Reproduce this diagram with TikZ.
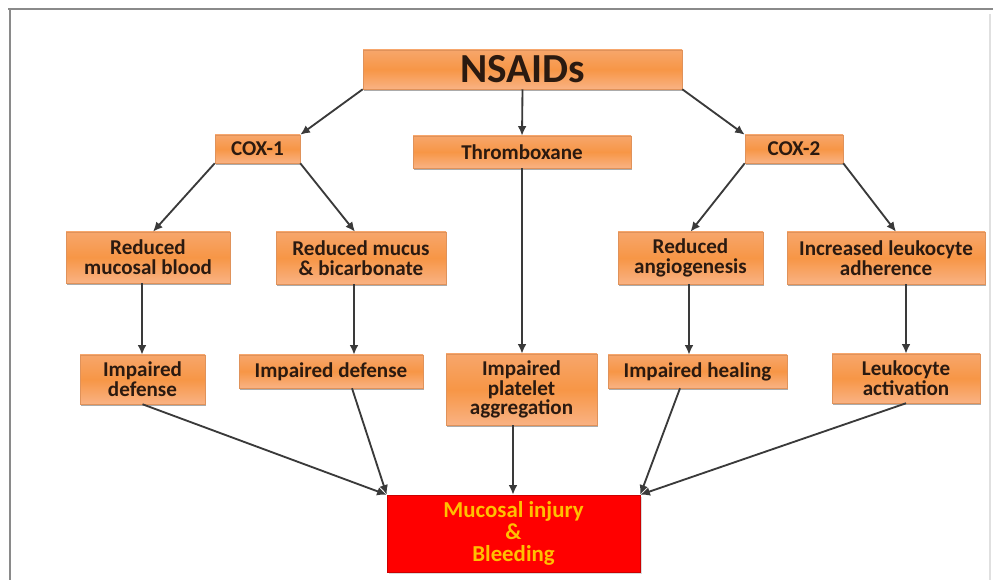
\documentclass[tikz,border=0pt]{standalone}
\usepackage{fontspec}
\setmainfont{Carlito}
\usetikzlibrary{arrows.meta,shadows,calc}
\definecolor{orgTop}{HTML}{F7A66B}
\definecolor{orgMid}{HTML}{F79646}
\definecolor{orgBot}{HTML}{F9B283}
\definecolor{orgEdge}{HTML}{E0925A}
\definecolor{lineC}{HTML}{3A3A3A}
\definecolor{txtC}{HTML}{2B1A10}
\definecolor{redBox}{HTML}{FF0000}
\definecolor{yelTxt}{HTML}{FFC000}
\definecolor{frameC}{HTML}{8A8A8A}
\tikzset{
  obox/.style 2 args={draw=orgEdge, line width=0.3pt, top color=orgTop, bottom color=orgBot, middle color=orgMid,
    minimum width=#1*0.02cm, minimum height=#2*0.02cm, inner sep=0pt, align=center,
    text=txtC, font=\bfseries\fontsize{12}{11.2}\selectfont,
    drop shadow={shadow xshift=0.6pt, shadow yshift=-0.9pt, opacity=0.55, fill=black!60}},
  rbox/.style 2 args={draw=red!80!black, line width=0.3pt, fill=redBox,
    minimum width=#1*0.02cm, minimum height=#2*0.02cm, inner sep=0pt, align=center,
    text=yelTxt, font=\bfseries\fontsize{13}{12.6}\selectfont,
    drop shadow={shadow xshift=1pt, shadow yshift=-1.2pt, opacity=0.35, fill=black!40}},
  conn/.style={draw=lineC, line width=1.05pt, -{Latex[length=5.5pt,width=5pt]}}
}
\begin{document}
\begin{tikzpicture}[x=0.02cm,y=-0.02cm]
\useasboundingbox (0,0) rectangle (993,580);
\fill[white] (0,0) rectangle (993,580);
% frame
\draw[frameC, line width=1.3pt] (8,9) -- (993,9);
\draw[frameC, line width=1.3pt] (10,9) -- (10,580);
\draw[black!12, line width=0.6pt] (990,14) -- (990,580);

% nodes
\node[obox={319}{39}, font=\bfseries\fontsize{23.5}{24}\selectfont] (nsaid) at (522.5,69.5) {NSAIDs};
\node[obox={85}{28}] (cox1) at (257.5,149) {COX-1};
\node[obox={218}{32}] (thr) at (522,152) {Thromboxane};
\node[obox={98}{28}] (cox2) at (794,149) {COX-2};

\node[obox={164}{51}] (rmb) at (148,257.5) {Reduced\\mucosal blood};
\node[obox={170}{52}] (rmbic) at (361,258) {Reduced mucus\\\& bicarbonate};
\node[obox={145}{52}] (ra) at (690.5,258) {Reduced\\angiogenesis};
\node[obox={198}{52}] (ila) at (886,258) {Increased leukocyte\\adherence};

\node[obox={125}{49}] (id1) at (142.5,379.5) {Impaired\\defense};
\node[obox={184}{33}] (id2) at (331,371.5) {Impaired defense};
\node[obox={151}{71}] (ipa) at (521.5,389.5) {Impaired\\platelet\\aggregation};
\node[obox={179}{33}] (ih) at (697.5,371.5) {Impaired healing};
\node[obox={148}{49}] (la) at (906,378.5) {Leukocyte\\activation};

\node[rbox={253}{77}] (mi) at (513.5,533.5) {Mucosal injury\\\&\\Bleeding};

% connectors
\draw[conn] (nsaid.south west) -- (cox1.north east);
\draw[conn] (nsaid.south) -- (thr.north);
\draw[conn] (nsaid.south east) -- (cox2.north west);

\draw[conn] (cox1.south west) -- ([xshift=0.1cm]rmb.north);
\draw[conn] (cox1.south east) -- ([xshift=-0.12cm]rmbic.north);
\draw[conn] (thr.south) -- (thr.south |- ipa.north);
\draw[conn] (cox2.south west) -- (ra.north);
\draw[conn] (cox2.south east) -- ([xshift=0.2cm]ila.north);

\draw[conn] ([xshift=-0.01cm]id1.north |- rmb.south) -- ([xshift=-0.01cm]id1.north);
\draw[conn] ([xshift=-0.14cm]rmbic.south) -- ([xshift=-0.14cm]rmbic.south |- id2.north);
\draw[conn] ([xshift=-0.03cm]ra.south) -- ([xshift=-0.03cm]ra.south |- ih.north);
\draw[conn] (la.north |- ila.south) -- (la.north);

\draw[conn] (id1.south) -- (mi.north west);
\draw[conn] ([xshift=0.42cm]id2.south) -- (mi.north west);
\draw[conn] ([xshift=-0.01cm]mi.north |- ipa.south) -- ([xshift=-0.01cm]mi.north);
\draw[conn] ([xshift=-0.35cm]ih.south) -- (mi.north east);
\draw[conn] (la.south) -- (mi.north east);
\end{tikzpicture}
\end{document}
